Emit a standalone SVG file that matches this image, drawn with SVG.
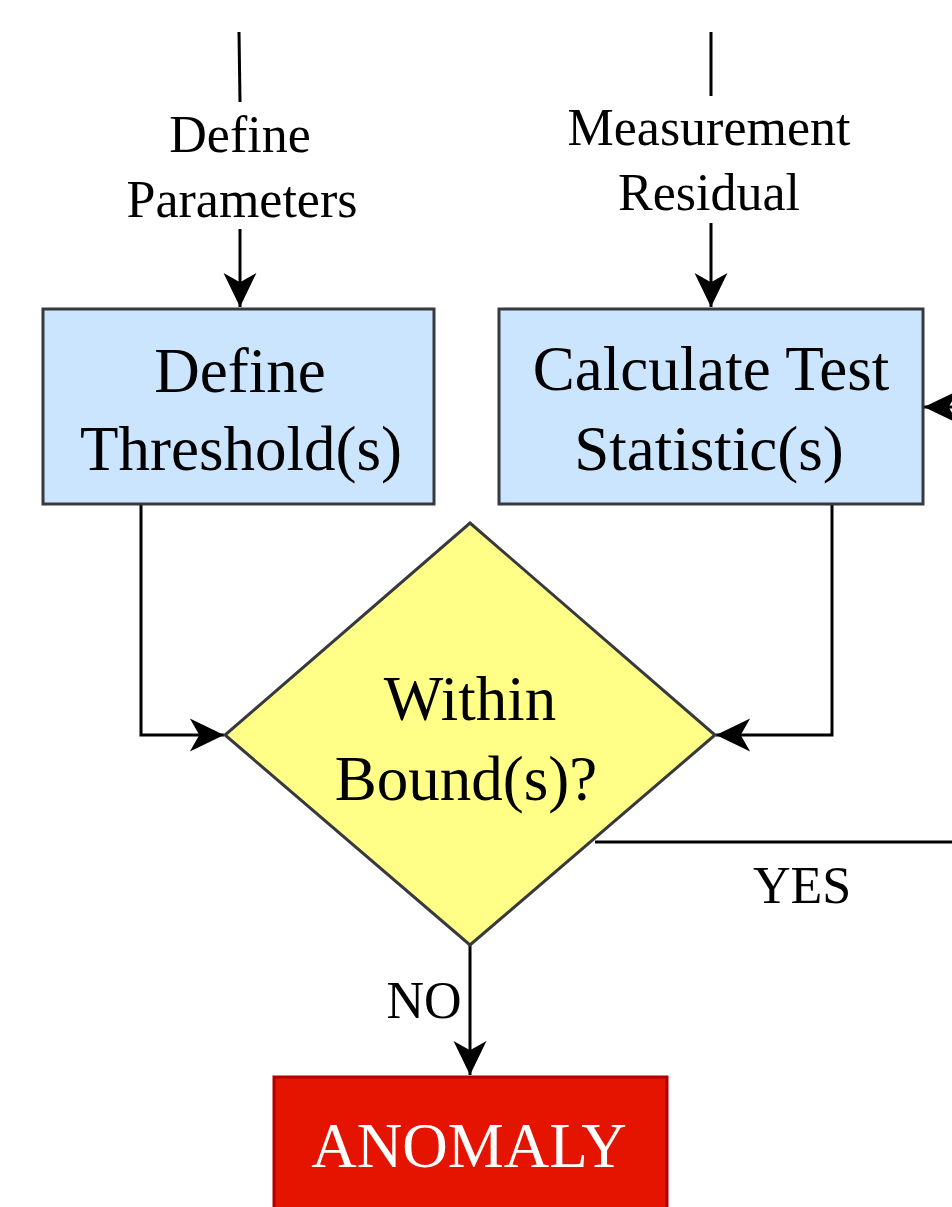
<svg xmlns="http://www.w3.org/2000/svg" width="952" height="1207" viewBox="0 0 952 1207">
<defs>
<style>
.t{font-family:"Liberation Serif","Times New Roman",serif;fill:#000;text-anchor:middle}
.lbl{font-size:52px}
.big{font-size:63px}
.box{fill:#cce5ff;stroke:#36393d;stroke-width:3}
.con{fill:none;stroke:#000;stroke-width:3}
</style>
<marker id="arr" markerUnits="userSpaceOnUse" markerWidth="40" markerHeight="40" viewBox="-32 -16 34 32" refX="0" refY="0" orient="auto">
<path d="M0,0 L-29,-14 L-21,0 L-29,14 Z" fill="#000"/>
</marker>
</defs>
<rect width="952" height="1207" fill="#fff"/>
<g id="connectors">
<line class="con" x1="239" y1="32" x2="240" y2="102"/>
<line class="con" x1="240" y1="229" x2="240" y2="307" marker-end="url(#arr)"/>
<line class="con" x1="711" y1="32" x2="711" y2="96"/>
<line class="con" x1="711" y1="223" x2="711" y2="307" marker-end="url(#arr)"/>
<polyline class="con" points="141,504 141,735 224,735" marker-end="url(#arr)"/>
<polyline class="con" points="832,504 832,735 716,735" marker-end="url(#arr)"/>
<line class="con" x1="960" y1="407" x2="924" y2="407" marker-end="url(#arr)"/>
<line class="con" x1="595" y1="842" x2="952" y2="842"/>
<line class="con" x1="470" y1="945" x2="470" y2="1075" marker-end="url(#arr)"/>
<text class="t lbl" x="240" y="152">Define</text>
<text class="t lbl" x="242" y="217">Parameters</text>
<text class="t lbl" x="709" y="145">Measurement</text>
<text class="t lbl" x="709" y="210">Residual</text>
<text class="t lbl" x="802" y="903">YES</text>
<text class="t lbl" x="424" y="1018">NO</text>
</g>
<g id="define-threshold">
<rect class="box" x="43" y="309" width="391" height="195"/>
<text class="t big" x="240" y="392">Define</text>
<text class="t big" x="241" y="470">Threshold(s)</text>
</g>
<g id="calculate-test">
<rect class="box" x="499" y="309" width="424" height="195"/>
<text class="t big" x="711" y="390">Calculate Test</text>
<text class="t big" x="709" y="470">Statistic(s)</text>
</g>
<g id="within-bounds">
<polygon points="470,523 715,735 470,945 225,735" fill="#ffff88" stroke="#36393d" stroke-width="3"/>
<text class="t big" x="470" y="720">Within</text>
<text class="t big" x="466" y="800">Bound(s)?</text>
</g>
<g id="anomaly">
<rect x="274" y="1077" width="393" height="180" fill="#e51400" stroke="#b20000" stroke-width="3"/>
<text class="t big" x="469" y="1167" style="fill:#fff">ANOMALY</text>
</g>
</svg>
